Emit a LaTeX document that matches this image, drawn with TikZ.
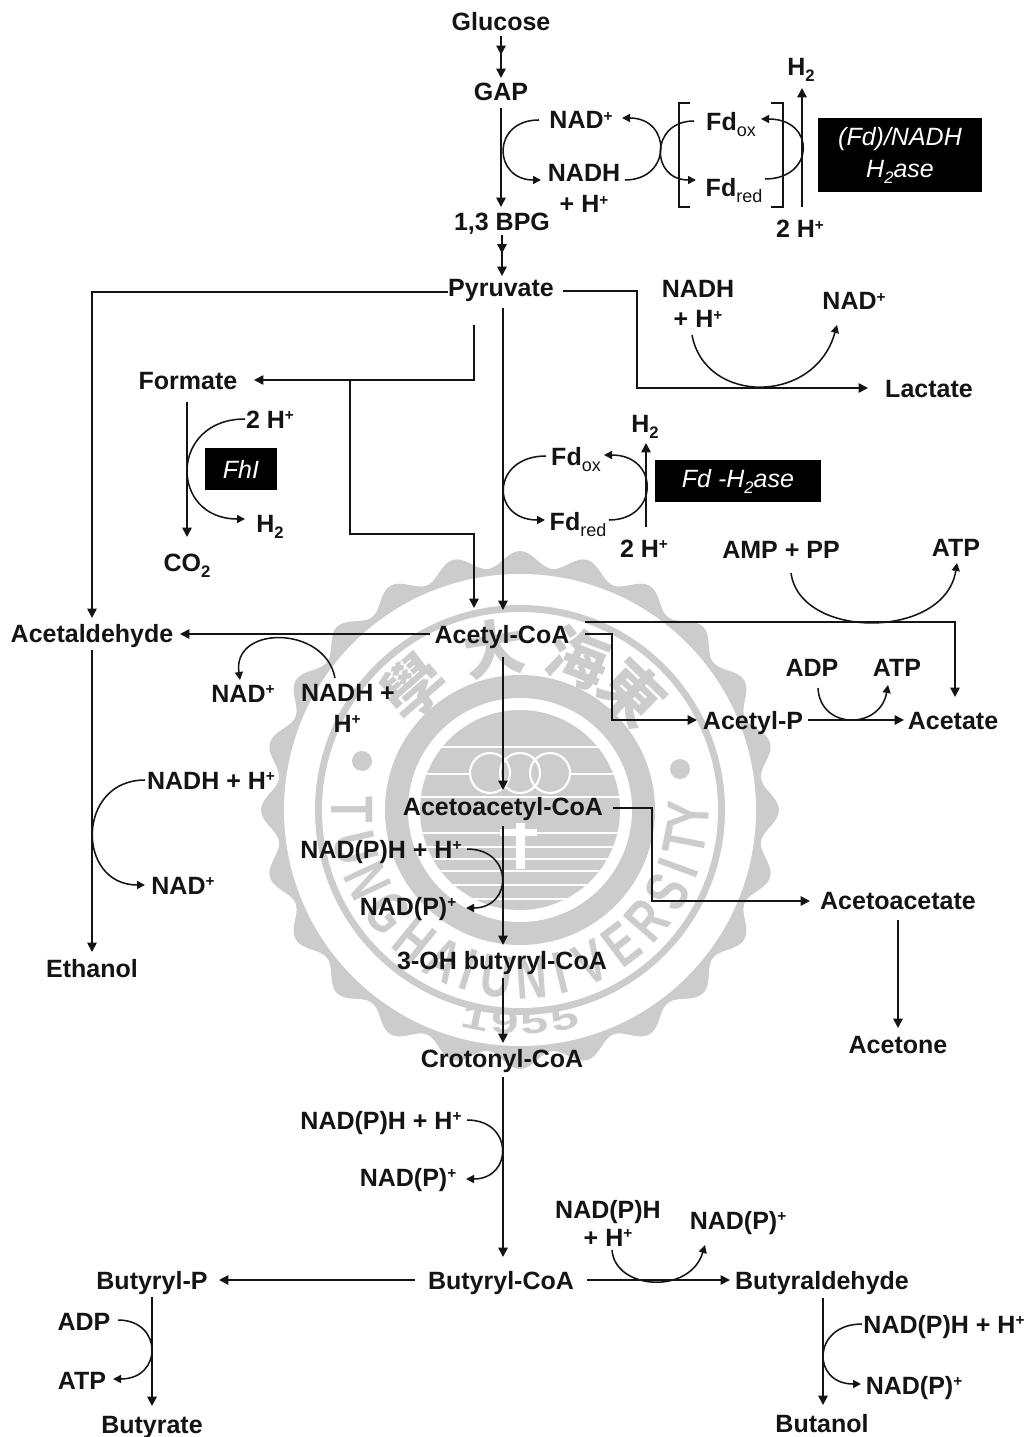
\documentclass[tikz,border=0pt]{standalone}
\usepackage{fontspec}
\setmainfont{Liberation Sans}
\newfontfamily\cjk{Noto Sans CJK TC}
\usetikzlibrary{calc,arrows.meta,decorations.markings}
\definecolor{wmgrey}{HTML}{CCCCCC}
\newcommand{\plussup}{\raisebox{5.5pt}{\fontsize{11.5}{11.5}\selectfont +}}
\newcommand{\lowsub}[1]{\raisebox{-4.5pt}{\fontsize{13.5}{13.5}\selectfont\mdseries #1}}
\newcommand{\twosub}{\raisebox{-4.5pt}{\fontsize{12.5}{12.5}\selectfont 2}}
\tikzset{
  lab/.style={font=\fontsize{18.75}{20}\selectfont\bfseries,text height=13.5pt,text depth=0pt,inner xsep=1pt,inner ysep=2pt,text=black!92},
  darkbox/.style={fill=black,text=white,font=\fontsize{18.75}{24}\selectfont\itshape,align=center,inner sep=0pt},
  arr/.style={line width=1.3pt,-{Triangle[length=7pt,width=7pt]},black!92},
  arc/.style={line width=1.15pt,-{Triangle[length=6pt,width=6pt]},black!92},
  plainline/.style={line width=1.1pt,black!92},
  midtip/.style={postaction={decorate},decoration={markings,mark=at position 0.45 with {\arrow{Triangle[length=7pt,width=7pt]}}}},
  wmtext/.style={text=wmgrey,font=\fontsize{45}{45}\selectfont\bfseries,inner sep=0pt},
  wmcjk/.style={text=wmgrey,font=\fontsize{46}{46}\selectfont\cjk\bfseries,inner sep=0pt},
  wmyear/.style={text=wmgrey,font=\fontsize{25}{25}\selectfont\bfseries,inner sep=0pt},
}
\begin{document}
\begin{tikzpicture}[x=0.75pt,y=-0.75pt]
\useasboundingbox (0,0) rectangle (1030,1437);
\fill[white] (0,0) rectangle (1030,1437);
% ---------- watermark seal ----------
\coordinate (c) at (520,810);
\fill[wmgrey] plot[domain=0:360,samples=361,variable=\a] ({520+(251+8*cos(24*\a))*cos(\a)},{810-(251+8*cos(24*\a))*sin(\a)}) -- cycle;
\fill[white] (c) circle[radius=236];
\fill[wmgrey] (c) circle[radius=205];
\fill[white] (c) circle[radius=198];
\fill[wmgrey] (c) circle[radius=135];
\fill[white] (c) circle[radius=112];
\fill[wmgrey] (c) circle[radius=100];
\begin{scope}
\clip (c) circle[radius=100];
\foreach \yy in {747,774,797,833,847,859,871,885,899,911}
  \draw[white,line width=0.8pt] (400,\yy) -- (640,\yy);
\end{scope}
\foreach \xx in {490,520,550}
  \fill[wmgrey] (\xx,773) circle[radius=20];
\foreach \xx in {490,520,550}
  \draw[white,line width=1.6pt] (\xx,773) circle[radius=20];
\fill[white] (516,823) rectangle (525,869);
\fill[white] (500,829) rectangle (537,836);
\fill[wmgrey] (362,761) circle[radius=10];
\fill[wmgrey] (680,769) circle[radius=10];
\foreach \ch/\t in {T/180,U/193,N/205,G/218,H/231,A/243,I/252,U/262,N/274,I/284,V/295,E/307,R/319,S/331,I/340,T/349,Y/358}
  \node[wmtext,rotate=\t+90] (wm\t) at ({520+168*cos(\t)},{810-168*sin(\t)}) {\scalebox{0.72}[1]{\ch}};
\foreach \ch/\t in {學/131,大/99,海/69,東/46}
  \node[wmcjk,rotate=\t-90] (wmc\t) at ({520+163*cos(\t)},{810-163*sin(\t)}) {\ch};
\foreach \ch/\t in {1/258,9/266,5/274,5/282}
  \node[wmyear,rotate=\t+90] (wmy\t) at ({520+213*cos(\t)},{810-213*sin(\t)}) {\scalebox{1.5}[1]{\ch}};
% ---------- labels ----------
\node[lab] (glu) at (501,22) {Glucose};
\node[lab] (gap) at (501,92) {GAP};
\node[lab] (nadA) at (581,120) {NAD\plussup};
\node[lab] (nadhA) at (584,173) {NADH};
\node[lab] (hA) at (584,204) {+ H\plussup};
\node[lab] (fdoxA) at (731,122) {Fd\lowsub{ox}};
\node[lab] (fdredA) at (734,188) {Fd\lowsub{red}};
\node[lab] (h2A) at (801,67) {H\twosub};
\node[lab] (hhA) at (800,229) {2 H\plussup};
\node[darkbox,minimum width=123pt,minimum height=55.5pt] (boxA) at (900,155) {(Fd)/NADH\\H\twosub ase};
\node[lab] (bpg) at (502,222) {1,3 BPG};
\node[lab] (pyr) at (501,288) {Pyruvate};
\node[lab] (nadhB) at (698,289) {NADH};
\node[lab] (hB) at (698,319) {+ H\plussup};
\node[lab] (nadB) at (854,301) {NAD\plussup};
\node[lab] (lac) at (929,388) {Lactate};
\node[lab] (form) at (188,380) {Formate};
\node[lab] (hhB) at (270,419) {2 H\plussup};
\node[darkbox,minimum width=54pt,minimum height=31.5pt] (fhl) at (241,469) {FhI};
\node[lab] (h2B) at (270,523) {H\twosub};
\node[lab] (co2) at (187,562) {CO\twosub};
\node[lab] (fdoxB) at (576,456) {Fd\lowsub{ox}};
\node[lab] (h2C) at (645,423) {H\twosub};
\node[darkbox,minimum width=124pt,minimum height=32pt] (boxC) at (738,481) {Fd -H\twosub ase};
\node[lab] (fdredB) at (578,521) {Fd\lowsub{red}};
\node[lab] (hhC) at (644,548) {2 H\plussup};
\node[lab] (amp) at (781,549) {AMP + PP};
\node[lab] (atpA) at (956,547) {ATP};
\node[lab] (acoa) at (502,634) {Acetyl-CoA};
\node[lab] (acald) at (92,633) {Acetaldehyde};
\node[lab] (nadC) at (243,693) {NAD\plussup};
\node[lab] (nadhC) at (348,692) {NADH +};
\node[lab] (hC) at (347,723) {H\plussup};
\node[lab] (adpA) at (812,667) {ADP};
\node[lab] (atpB) at (897,667) {ATP};
\node[lab] (acp) at (753,720) {Acetyl-P};
\node[lab] (acet) at (953,720) {Acetate};
\node[lab] (nadhD) at (211,780) {NADH + H\plussup};
\node[lab] (nadD) at (183,885) {NAD\plussup};
\node[lab] (etoh) at (92,968) {Ethanol};
\node[lab] (aacoa) at (503,806) {Acetoacetyl-CoA};
\node[lab] (npE) at (381,849) {NAD(P)H + H\plussup};
\node[lab] (nE) at (408,906) {NAD(P)\plussup};
\node[lab] (oh) at (502,960) {3-OH butyryl-CoA};
\node[lab] (cro) at (502,1058) {Crotonyl-CoA};
\node[lab] (aac) at (898,900) {Acetoacetate};
\node[lab] (acetone) at (898,1044) {Acetone};
\node[lab] (npF) at (381,1120) {NAD(P)H + H\plussup};
\node[lab] (nF) at (408,1177) {NAD(P)\plussup};
\node[lab] (npG) at (608,1209) {NAD(P)H};
\node[lab] (hG) at (608,1237) {+ H\plussup};
\node[lab] (nG) at (738,1220) {NAD(P)\plussup};
\node[lab] (bcoa) at (501,1280) {Butyryl-CoA};
\node[lab] (bp) at (152,1280) {Butyryl-P};
\node[lab] (bald) at (822,1280) {Butyraldehyde};
\node[lab] (adpH) at (84,1321) {ADP};
\node[lab] (atpH) at (82,1380) {ATP};
\node[lab] (bute) at (152,1424) {Butyrate};
\node[lab] (npI) at (944,1324) {NAD(P)H + H\plussup};
\node[lab] (nI) at (914,1385) {NAD(P)\plussup};
\node[lab] (buol) at (822,1423) {Butanol};
% ---------- brackets ----------
\draw[plainline] (690,103) -- (679,103) -- (679,207) -- (690,207);
\draw[plainline] (771,103) -- (783,103) -- (783,207) -- (771,207);
% ---------- straight connectors ----------
\draw[arr,midtip] ($(glu)+(0,14)$) -- ($(gap)+(0,-14)$);
\draw[arr] ($(gap)+(0,16)$) -- ($(bpg)+(-1,-15)$);
\draw[arr,midtip] ($(bpg)+(0,13)$) -- ($(pyr)+(1,-12)$);
\draw[arr] ($(hhA)+(2,-22)$) -- ($(h2A)+(1,21)$);
\draw[arr] ($(pyr)+(-53,4)$) -| ($(acald)+(0,-15)$);
\draw[arr] ($(pyr)+(62,3)$) -- ++(74,0) |- ($(lac)+(-61,0)$);
\draw[arr] ($(pyr)+(2,20)$) -- ($(acoa)+(1,-24)$);
\coordinate (brF) at (350,380);
\coordinate (brG) at (474,534);
\draw[arr] ($(pyr)+(-27,37)$) |- ($(form)+(66,0)$);
\draw[arr] (brF) |- (brG) -- ($(acoa)+(-28,-26)$);
\draw[arr] ($(form)+(-1,22)$) -- ($(co2)+(0,-25)$);
\draw[arr] ($(hhC)+(2,-21)$) -- ($(h2C)+(1,20)$);
\draw[arr] ($(acoa)+(-72,0)$) -- ($(acald)+(88,1)$);
\draw[arr] ($(acoa)+(83,-12)$) -| ($(acet)+(2,-23)$);
\draw[arr] ($(acoa)+(83,0)$) -- ++(27,0) |- ($(acp)+(-56,0)$);
\draw[arr] ($(acoa)+(1,23)$) -- ($(aacoa)+(0,-16)$);
\draw[arr] ($(acald)+(0,17)$) -- ($(etoh)+(0,-16)$);
\draw[arr] ($(acp)+(55,0)$) -- ($(acet)+(-49,0)$);
\draw[arr] ($(aacoa)+(110,2)$) -- ++(39,0) |- ($(aac)+(-88,1)$);
\draw[arr] ($(aacoa)+(0,20)$) -- ($(oh)+(1,-15)$);
\draw[arr] ($(oh)+(1,18)$) -- ($(cro)+(1,-15)$);
\draw[arr] ($(cro)+(1,19)$) -- ($(bcoa)+(2,-23)$);
\draw[arr] ($(aac)+(0,20)$) -- ($(acetone)+(0,-16)$);
\draw[arr] ($(bcoa)+(-86,0)$) -- ($(bp)+(67,0)$);
\draw[arr] ($(bcoa)+(86,0)$) -- ($(bald)+(-92,0)$);
\draw[arr] ($(bp)+(0,17)$) -- ($(bute)+(0,-18)$);
\draw[arr] ($(bald)+(1,18)$) -- ($(buol)+(1,-18)$);
% ---------- curved connectors ----------
\draw[arc] ($(nadA)+(-42,0)$) .. controls +(-48,0) and +(-48,0) .. ($(nadhA)+(-43,7)$);
\draw[arc] ($(nadhA)+(41,7)$) .. controls +(47,0) and +(50,0) .. ($(nadA)+(41,-2)$);
\draw[arc] ($(fdoxA)+(-37,-1)$) .. controls +(-44,0) and +(-46,0) .. ($(fdredA)+(-38,-8)$);
\draw[arc] ($(fdredA)+(31,-9)$) .. controls +(50,0) and +(55,0) .. ($(fdoxA)+(30,-3)$);
\draw[arc] ($(hB)+(-6,16)$) .. controls +(13,70) and +(-22,80) .. ($(nadB)+(-17,24)$);
\draw[arc] ($(hhB)+(-25,0)$) .. controls +(-76,0) and +(-76,0) .. ($(h2B)+(-25,-4)$);
\draw[arc] ($(fdoxB)+(-30,0)$) .. controls +(-55,0) and +(-55,0) .. ($(fdredB)+(-33,-1)$);
\draw[arc] ($(fdredB)+(31,-1)$) .. controls +(50,0) and +(56,0) .. ($(fdoxB)+(28,-1)$);
\draw[arc] ($(amp)+(10,24)$) .. controls +(9,67) and +(-12,77) .. ($(atpA)+(1,16)$);
\draw[arc] ($(nadhC)+(-13,-14)$) .. controls +(-10,-53) and +(-8,-55) .. ($(nadC)+(-3,-13)$);
\draw[arc] ($(nadhD)+(-66,0)$) .. controls +(-69,0) and +(-69,0) .. ($(nadD)+(-38,0)$);
\draw[arc] ($(adpA)+(6,21)$) .. controls +(2,42) and +(-8,45) .. ($(atpB)+(-9,18)$);
\draw[arc] ($(npE)+(86,0)$) .. controls +(47,0) and +(47,0) .. ($(nE)+(58,2)$);
\draw[arc] ($(npF)+(86,0)$) .. controls +(47,0) and +(47,0) .. ($(nF)+(58,2)$);
\draw[arc] ($(hG)+(4,13)$) .. controls +(3,40) and +(-15,50) .. ($(nG)+(-33,25)$);
\draw[arc] ($(adpH)+(34,-1)$) .. controls +(45,0) and +(50,0) .. ($(atpH)+(31,-1)$);
\draw[arc] ($(npI)+(-82,0)$) .. controls +(-50,0) and +(-50,0) .. ($(nI)+(-53,-1)$);
\end{tikzpicture}
\end{document}
